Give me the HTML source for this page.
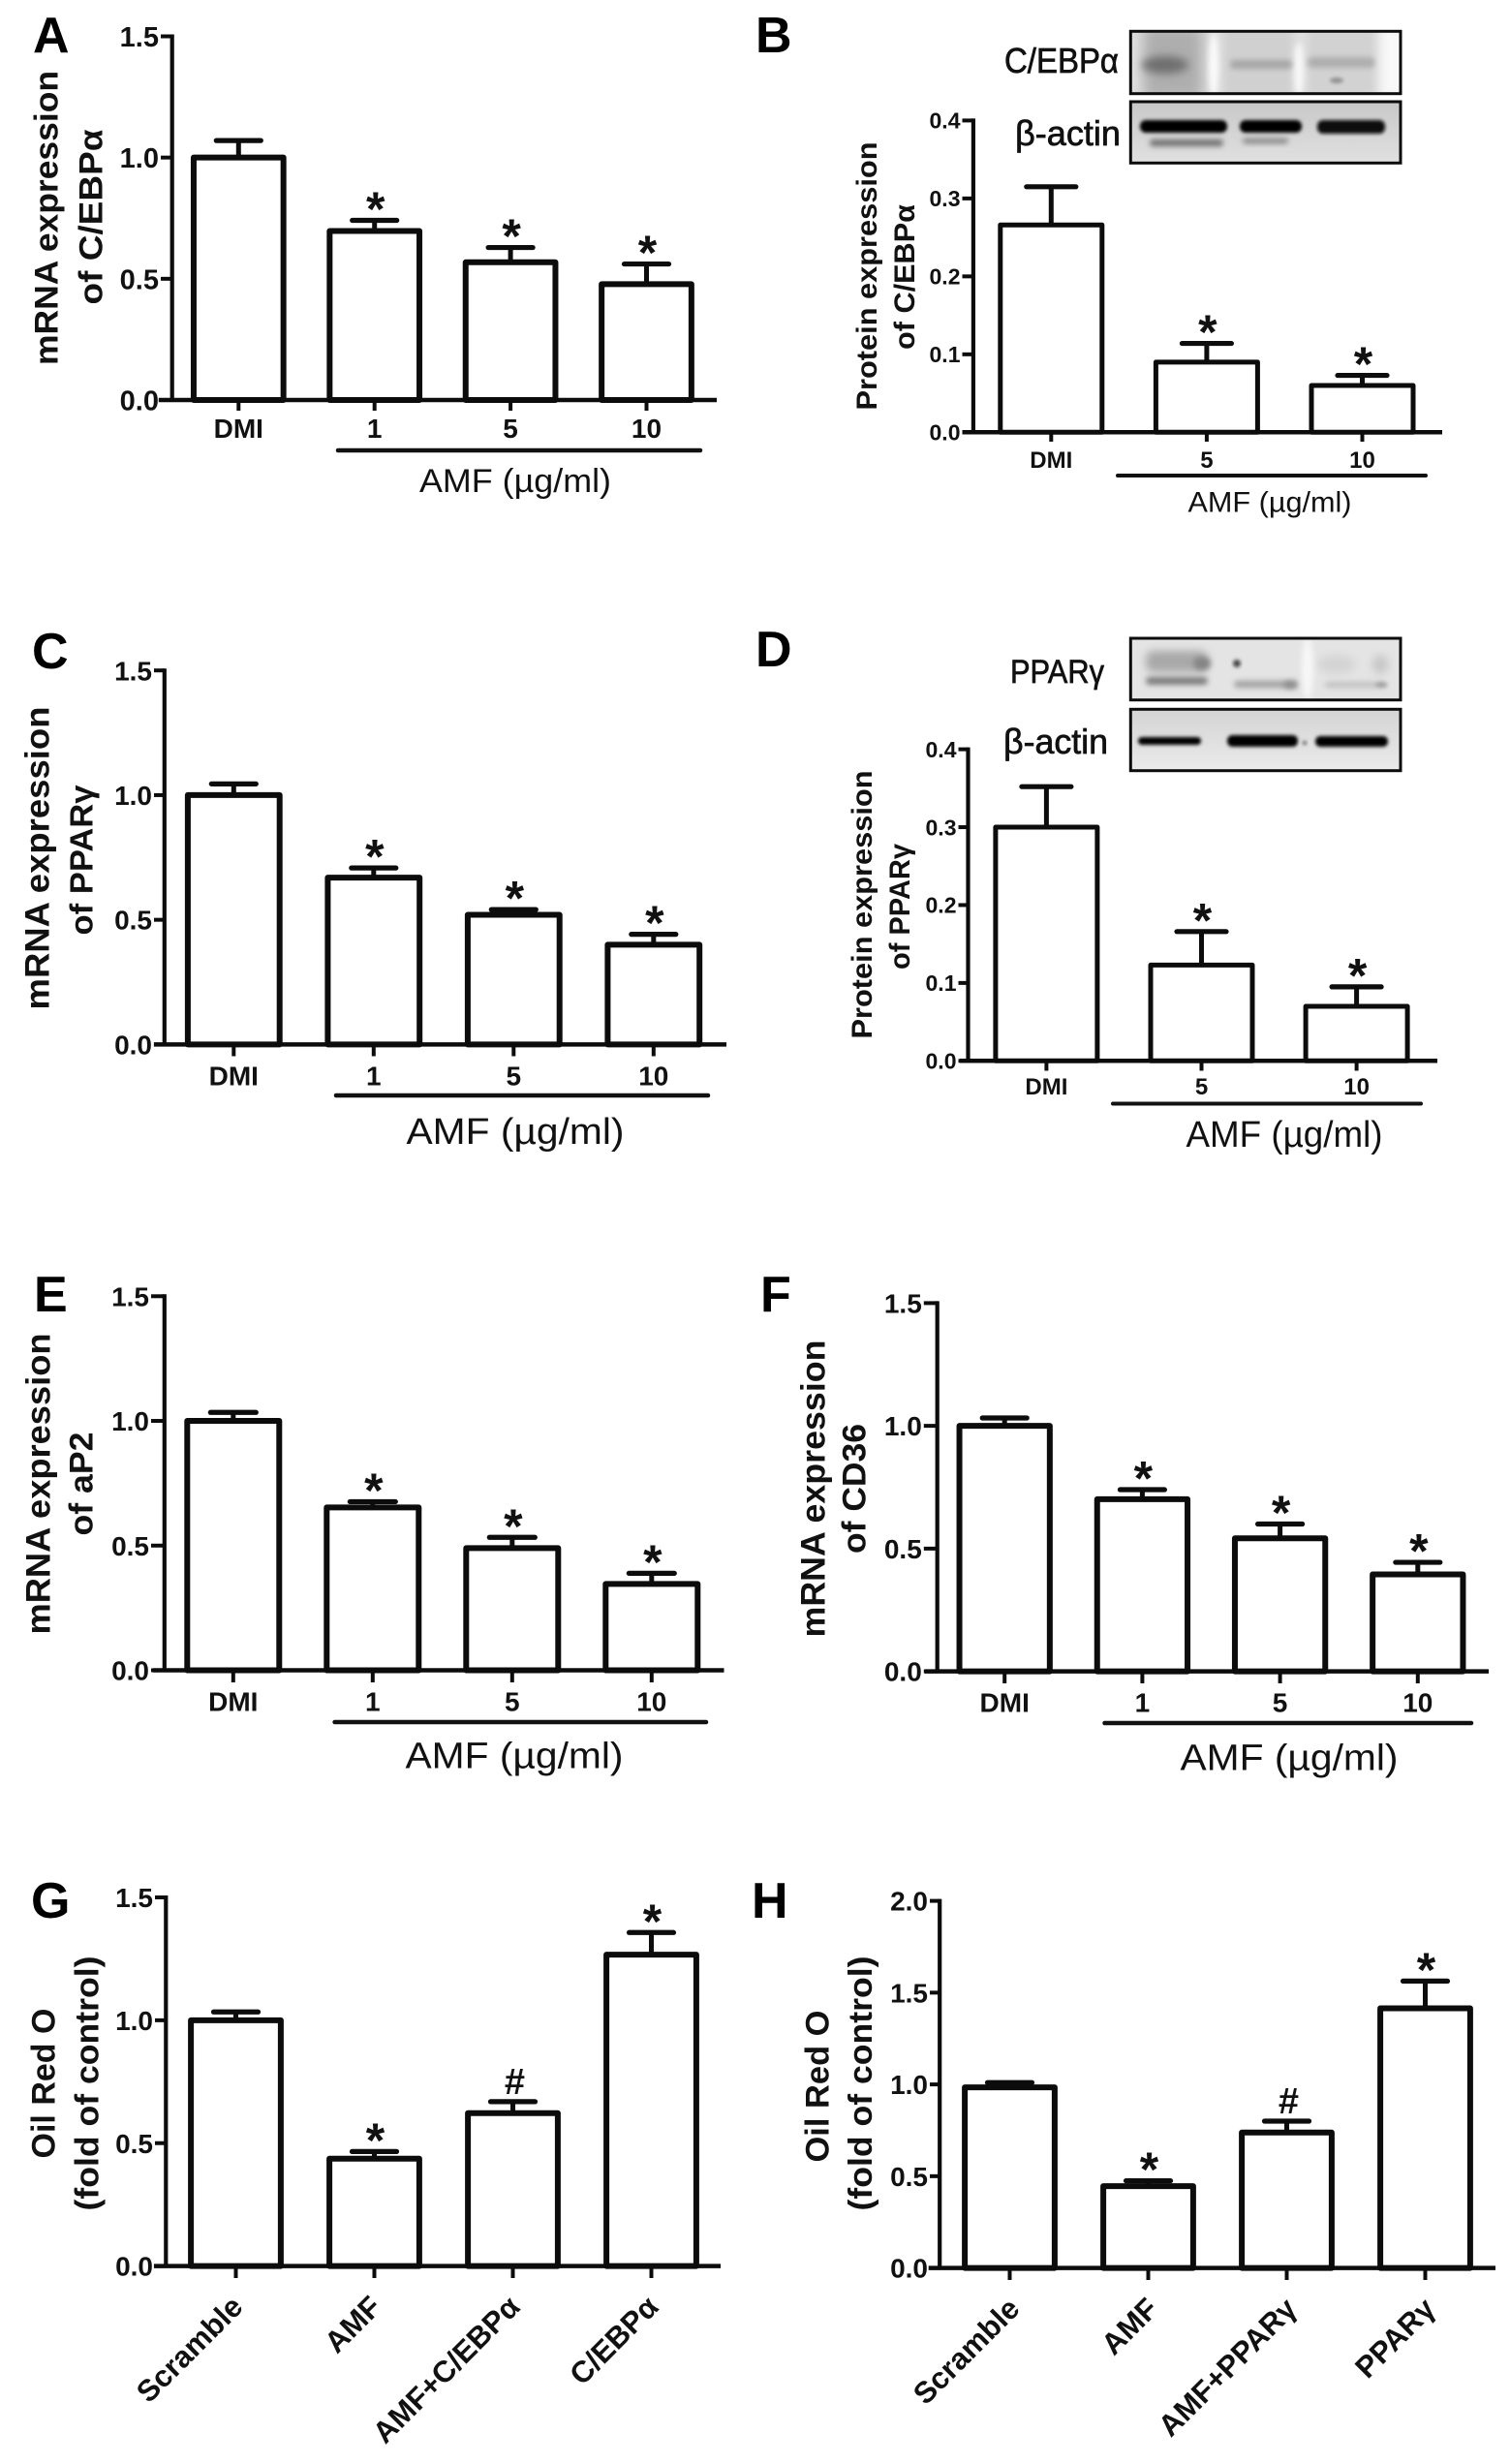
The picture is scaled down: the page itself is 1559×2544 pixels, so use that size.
<!DOCTYPE html>
<html lang="en">
<head>
<meta charset="utf-8">
<title>AMF adipogenesis bar charts</title>
<style>
  html, body { margin: 0; padding: 0; background: #fff; }
  svg { display: block; font-family: "Liberation Sans", Arial, sans-serif; }
</style>
</head>
<body>
<svg id="figure" xmlns="http://www.w3.org/2000/svg" width="1559" height="2544" viewBox="0 0 1559 2544">
  <defs>
    <filter id="b1" x="-30%" y="-100%" width="160%" height="300%"><feGaussianBlur stdDeviation="1.9"/></filter>
    <filter id="b2" x="-50%" y="-100%" width="200%" height="300%"><feGaussianBlur stdDeviation="2.8"/></filter>
    <filter id="b4" x="-50%" y="-100%" width="200%" height="300%"><feGaussianBlur stdDeviation="4.5"/></filter>
    <filter id="b8" x="-50%" y="-50%" width="200%" height="200%"><feGaussianBlur stdDeviation="7"/></filter>
    <linearGradient id="bgD2" x1="0" y1="0" x2="0" y2="1"><stop offset="0" stop-color="#d2d2d2"/><stop offset="1" stop-color="#ececec"/></linearGradient>
    <linearGradient id="bgB2" x1="0" y1="0" x2="0" y2="1"><stop offset="0" stop-color="#c6c6c6"/><stop offset="1" stop-color="#e2e2e2"/></linearGradient>
    <clipPath id="cb1"><rect x="1167.3" y="32.3" width="278.7" height="64.4"/></clipPath>
    <clipPath id="cb2"><rect x="1167.3" y="105" width="278.7" height="63.3"/></clipPath>
    <clipPath id="cd1"><rect x="1167.3" y="659" width="278.7" height="63.7"/></clipPath>
    <clipPath id="cd2"><rect x="1167.3" y="732.3" width="278.7" height="63.4"/></clipPath>
  </defs>
  <rect x="0" y="0" width="1559" height="2544" fill="#fff"/>

  <!-- Panel B blots -->
  <g clip-path="url(#cb1)">
    <rect x="1160" y="28" width="295" height="72" fill="#e0e0e0"/>
    <rect x="1180" y="26" width="62" height="76" fill="#aeaeae" filter="url(#b8)"/>
    <rect x="1263" y="26" width="72" height="76" fill="#d0d0d0" filter="url(#b4)"/>
    <rect x="1350" y="30" width="70" height="70" fill="#d2d2d2" filter="url(#b4)"/>
    <ellipse cx="1203" cy="67" rx="24" ry="9" fill="#6e6e6e" filter="url(#b4)"/>
    <ellipse cx="1253" cy="68" rx="5" ry="34" fill="#fbfbfb" filter="url(#b2)"/>
    <ellipse cx="1341" cy="72" rx="5" ry="28" fill="#f8f8f8" filter="url(#b2)"/>
    <rect x="1270" y="62" width="64" height="9" rx="4" fill="#a6a6a6" filter="url(#b2)"/>
    <rect x="1350" y="59" width="70" height="11" rx="5" fill="#aeaeae" filter="url(#b2)"/>
    <ellipse cx="1380" cy="83" rx="7" ry="3" fill="#929292" filter="url(#b1)"/>
    <rect x="1425" y="28" width="30" height="72" fill="#f8f8f8" filter="url(#b4)"/>
  </g>
  <rect x="1167.3" y="32.3" width="278.7" height="64.4" fill="none" stroke="#0c0c0c" stroke-width="3"/>
  <g clip-path="url(#cb2)">
    <rect x="1160" y="100" width="295" height="72" fill="url(#bgB2)"/>
    <rect x="1177" y="124" width="90" height="13" rx="6" fill="#060606" filter="url(#b1)"/>
    <rect x="1280" y="124" width="64" height="13" rx="6" fill="#060606" filter="url(#b1)"/>
    <rect x="1360" y="124" width="70" height="14" rx="6" fill="#080808" filter="url(#b1)"/>
    <rect x="1187" y="144" width="76" height="7" rx="3.5" fill="#6e6e6e" filter="url(#b2)"/>
    <rect x="1283" y="143" width="47" height="5" rx="2.5" fill="#7e7e7e" filter="url(#b2)"/>
  </g>
  <rect x="1167.3" y="105" width="278.7" height="63.3" fill="none" stroke="#0c0c0c" stroke-width="3"/>
  <text x="1037" y="75" font-size="36" textLength="118" lengthAdjust="spacingAndGlyphs" fill="#111" stroke="#111" stroke-width="0.7">C/EBPα</text>
  <text x="1048" y="150" font-size="36" textLength="109" lengthAdjust="spacingAndGlyphs" fill="#111" stroke="#111" stroke-width="0.7">β-actin</text>

  <!-- Panel D blots -->
  <g clip-path="url(#cd1)">
    <rect x="1160" y="655" width="295" height="72" fill="#e4e4e4"/>
    <rect x="1183" y="672" width="64" height="22" rx="8" fill="#a8a8a8" filter="url(#b4)"/>
    <ellipse cx="1241" cy="685" rx="9" ry="7" fill="#858585" filter="url(#b2)"/>
    <rect x="1183" y="699" width="64" height="8" rx="4" fill="#7a7a7a" filter="url(#b2)"/>
    <ellipse cx="1277" cy="685" rx="4" ry="4" fill="#4a4a4a" filter="url(#b1)"/>
    <rect x="1274" y="703" width="66" height="7" rx="3.5" fill="#a0a0a0" filter="url(#b2)"/>
    <ellipse cx="1332" cy="707" rx="7" ry="4" fill="#8e8e8e" filter="url(#b2)"/>
    <rect x="1368" y="704" width="64" height="6" rx="3" fill="#c0c0c0" filter="url(#b2)"/>
    <ellipse cx="1426" cy="707" rx="6" ry="3" fill="#a8a8a8" filter="url(#b1)"/>
    <ellipse cx="1425" cy="686" rx="8" ry="10" fill="#c6c6c6" filter="url(#b4)"/>
    <ellipse cx="1380" cy="686" rx="20" ry="10" fill="#d4d4d4" filter="url(#b4)"/>
    <ellipse cx="1350" cy="690" rx="6" ry="32" fill="#f7f7f7" filter="url(#b2)"/>
  </g>
  <rect x="1167.3" y="659" width="278.7" height="63.7" fill="none" stroke="#0c0c0c" stroke-width="3"/>
  <g clip-path="url(#cd2)">
    <rect x="1160" y="728" width="295" height="72" fill="url(#bgD2)"/>
    <rect x="1175" y="761" width="65" height="8" rx="4" fill="#060606" filter="url(#b1)"/>
    <rect x="1267" y="759" width="73" height="12" rx="5.5" fill="#040404" filter="url(#b1)"/>
    <rect x="1358" y="760" width="75" height="11" rx="5" fill="#060606" filter="url(#b1)"/>
    <ellipse cx="1347" cy="767" rx="2.5" ry="2" fill="#666" filter="url(#b1)"/>
  </g>
  <rect x="1167.3" y="732.3" width="278.7" height="63.4" fill="none" stroke="#0c0c0c" stroke-width="3"/>
  <text x="1043" y="705" font-size="34" textLength="97" lengthAdjust="spacingAndGlyphs" fill="#111" stroke="#111" stroke-width="0.7">PPARγ</text>
  <text x="1036" y="778" font-size="36" textLength="108" lengthAdjust="spacingAndGlyphs" fill="#111" stroke="#111" stroke-width="0.7">β-actin</text>

  <!-- Panel letters -->
  <text x="34" y="54" font-size="52" font-weight="bold" fill="#000">A</text>
  <text x="780" y="54" font-size="52" font-weight="bold" fill="#000">B</text>
  <text x="33" y="690" font-size="52" font-weight="bold" fill="#000">C</text>
  <text x="780" y="688" font-size="52" font-weight="bold" fill="#000">D</text>
  <text x="35" y="1354" font-size="52" font-weight="bold" fill="#000">E</text>
  <text x="785" y="1354" font-size="52" font-weight="bold" fill="#000">F</text>
  <text x="32" y="1980" font-size="52" font-weight="bold" fill="#000">G</text>
  <text x="776" y="1980" font-size="52" font-weight="bold" fill="#000">H</text>

  <!-- Y-axis titles -->
  <text transform="translate(59.6 225) rotate(-90)" text-anchor="middle" font-size="34" font-weight="bold" textLength="304" lengthAdjust="spacingAndGlyphs" fill="#111">mRNA expression</text>
  <text transform="translate(105.3 224) rotate(-90)" text-anchor="middle" font-size="34" font-weight="bold" textLength="181" lengthAdjust="spacingAndGlyphs" fill="#111">of C/EBPα</text>
  <text transform="translate(905 285) rotate(-90)" text-anchor="middle" font-size="30" font-weight="bold" textLength="277" lengthAdjust="spacingAndGlyphs" fill="#111">Protein expression</text>
  <text transform="translate(943.8 286) rotate(-90)" text-anchor="middle" font-size="30" font-weight="bold" textLength="150" lengthAdjust="spacingAndGlyphs" fill="#111">of C/EBPα</text>
  <text transform="translate(50.6 886) rotate(-90)" text-anchor="middle" font-size="35" font-weight="bold" textLength="313" lengthAdjust="spacingAndGlyphs" fill="#111">mRNA expression</text>
  <text transform="translate(95.3 888) rotate(-90)" text-anchor="middle" font-size="33" font-weight="bold" textLength="155" lengthAdjust="spacingAndGlyphs" fill="#111">of PPARγ</text>
  <text transform="translate(900 934) rotate(-90)" text-anchor="middle" font-size="30" font-weight="bold" textLength="277" lengthAdjust="spacingAndGlyphs" fill="#111">Protein expression</text>
  <text transform="translate(938.9 936) rotate(-90)" text-anchor="middle" font-size="30" font-weight="bold" textLength="130" lengthAdjust="spacingAndGlyphs" fill="#111">of PPARγ</text>
  <text transform="translate(51.6 1532) rotate(-90)" text-anchor="middle" font-size="35" font-weight="bold" textLength="311" lengthAdjust="spacingAndGlyphs" fill="#111">mRNA expression</text>
  <text transform="translate(95.3 1532) rotate(-90)" text-anchor="middle" font-size="34" font-weight="bold" textLength="107" lengthAdjust="spacingAndGlyphs" fill="#111">of aP2</text>
  <text transform="translate(851.5 1537) rotate(-90)" text-anchor="middle" font-size="35" font-weight="bold" textLength="307" lengthAdjust="spacingAndGlyphs" fill="#111">mRNA expression</text>
  <text transform="translate(893.7 1537) rotate(-90)" text-anchor="middle" font-size="34" font-weight="bold" textLength="134" lengthAdjust="spacingAndGlyphs" fill="#111">of CD36</text>
  <text transform="translate(56.6 2151) rotate(-90)" text-anchor="middle" font-size="34" font-weight="bold" textLength="155" lengthAdjust="spacingAndGlyphs" fill="#111">Oil Red O</text>
  <text transform="translate(101.3 2151) rotate(-90)" text-anchor="middle" font-size="34" font-weight="bold" textLength="263" lengthAdjust="spacingAndGlyphs" fill="#111">(fold of control)</text>
  <text transform="translate(855.5 2154) rotate(-90)" text-anchor="middle" font-size="34" font-weight="bold" textLength="157" lengthAdjust="spacingAndGlyphs" fill="#111">Oil Red O</text>
  <text transform="translate(900 2151) rotate(-90)" text-anchor="middle" font-size="34" font-weight="bold" textLength="263" lengthAdjust="spacingAndGlyphs" fill="#111">(fold of control)</text>

  <!-- Dose group labels -->
  <line x1="349" y1="465" x2="723" y2="465" stroke="#111" stroke-width="4.5" stroke-linecap="round"/>
  <text x="532" y="508" text-anchor="middle" font-size="34" textLength="198" lengthAdjust="spacingAndGlyphs" fill="#111">AMF (µg/ml)</text>
  <line x1="1154" y1="491" x2="1472" y2="491" stroke="#111" stroke-width="4" stroke-linecap="round"/>
  <text x="1311" y="528.5" text-anchor="middle" font-size="30" textLength="169" lengthAdjust="spacingAndGlyphs" fill="#111">AMF (µg/ml)</text>
  <line x1="347" y1="1131" x2="731" y2="1131" stroke="#111" stroke-width="4.5" stroke-linecap="round"/>
  <text x="532" y="1181" text-anchor="middle" font-size="38" textLength="225" lengthAdjust="spacingAndGlyphs" fill="#111">AMF (µg/ml)</text>
  <line x1="1149" y1="1139.5" x2="1467" y2="1139.5" stroke="#111" stroke-width="4" stroke-linecap="round"/>
  <text x="1326" y="1184" text-anchor="middle" font-size="38" textLength="203" lengthAdjust="spacingAndGlyphs" fill="#111">AMF (µg/ml)</text>
  <line x1="345.6" y1="1778" x2="729" y2="1778" stroke="#111" stroke-width="4.5" stroke-linecap="round"/>
  <text x="531" y="1825.7" text-anchor="middle" font-size="38" textLength="225" lengthAdjust="spacingAndGlyphs" fill="#111">AMF (µg/ml)</text>
  <line x1="1140.5" y1="1779" x2="1519" y2="1779" stroke="#111" stroke-width="4.5" stroke-linecap="round"/>
  <text x="1331" y="1827.5" text-anchor="middle" font-size="38" textLength="225" lengthAdjust="spacingAndGlyphs" fill="#111">AMF (µg/ml)</text>
</svg>

<script>
// Chart data
const doseCategories = ['DMI', '1', '5', '10'];
const proteinCategories = ['DMI', '5', '10'];
const oilCategoriesG = ['Scramble', 'AMF', 'AMF+C/EBPα', 'C/EBPα'];
const oilCategoriesH = ['Scramble', 'AMF', 'AMF+PPARγ', 'PPARγ'];

const mrnaTicks = ['0.0', '0.5', '1.0', '1.5'];
const proteinTicks = ['0.0', '0.1', '0.2', '0.3', '0.4'];
const oilTicksH = ['0.0', '0.5', '1.0', '1.5', '2.0'];

const panelAMeans = [1.0, 0.697, 0.568, 0.478];
const panelAErrors = [0.07, 0.044, 0.061, 0.083];
const panelAMarks = ['', '*', '*', '*'];

const panelBMeans = [0.266, 0.09, 0.06];
const panelBErrors = [0.049, 0.024, 0.013];
const panelBMarks = ['', '*', '*'];

const panelCMeans = [1.0, 0.669, 0.52, 0.40];
const panelCErrors = [0.045, 0.039, 0.021, 0.042];
const panelCMarks = ['', '*', '*', '*'];

const panelDMeans = [0.30, 0.123, 0.07];
const panelDErrors = [0.052, 0.043, 0.025];
const panelDMarks = ['', '*', '*'];

const panelEMeans = [1.0, 0.653, 0.49, 0.346];
const panelEErrors = [0.034, 0.023, 0.043, 0.043];
const panelEMarks = ['', '*', '*', '*'];

const panelFMeans = [1.0, 0.701, 0.542, 0.395];
const panelFErrors = [0.032, 0.039, 0.058, 0.049];
const panelFMarks = ['', '*', '*', '*'];

const panelGMeans = [1.0, 0.437, 0.622, 1.267];
const panelGErrors = [0.034, 0.029, 0.047, 0.09];
const panelGMarks = ['', '*', '#', '*'];

const panelHMeans = [0.984, 0.446, 0.738, 1.415];
const panelHErrors = [0.026, 0.029, 0.062, 0.148];
const panelHMarks = ['', '*', '#', '*'];

const svgNS = 'http://www.w3.org/2000/svg';
const figure = document.getElementById('figure');

function add(parent, tag, attrs, text) {
  const el = document.createElementNS(svgNS, tag);
  for (const k in attrs) el.setAttribute(k, attrs[k]);
  if (text !== undefined) el.textContent = text;
  parent.appendChild(el);
  return el;
}

function drawPanel(categories, means, errors, ticks, marks, o) {
  const tickMax = parseFloat(ticks[ticks.length - 1]);
  const y = v => o.y0 - (v / tickMax) * (o.y0 - o.yTop);
  const x = i => o.first + i * o.step;
  const g = add(figure, 'g', {});
  
  

  means.forEach((m, i) => {
    const top = y(m + errors[i]);
    const stem = add(g, 'line', { x1: x(i), x2: x(i), y1: y(m), y2: top, stroke: '#0c0c0c', 'stroke-width': 5 });
    
    
    const cap = add(g, 'line', { x1: x(i) - o.capW / 2, x2: x(i) + o.capW / 2, y1: top, y2: top, stroke: '#0c0c0c', 'stroke-width': 5.2, 'stroke-linecap': 'round' });
    
    
    const bar = add(g, 'rect', { x: x(i) - o.barW / 2, y: y(m), width: o.barW, height: y(0) - y(m), fill: '#fff', stroke: '#0c0c0c', 'stroke-width': o.sw, 'stroke-linejoin': 'round' });
    
    

    if (marks[i] === '*') {
      const cy = top - 17;
      const star = add(g, 'text', { x: x(i) + 1, y: cy + 0.45 * 50, 'text-anchor': 'middle', 'font-size': 50, 'font-weight': 'bold', fill: '#111' }, marks[i]);
      
      
    } else if (marks[i] === '#') {
      const hash = add(g, 'text', { x: x(i) + 2, y: top - 8, 'text-anchor': 'middle', 'font-size': 38, 'font-weight': 'bold', fill: '#111' }, marks[i]);
      
      
    }

    const xTick = add(g, 'line', { x1: x(i), x2: x(i), y1: o.y0, y2: o.xTickEnd, stroke: '#0c0c0c', 'stroke-width': 4 });
    
    

    if (o.rotated) {
      const bx = x(i) + o.rotDx;
      const by = o.y0 + 44;
      const label = add(g, 'text', { x: bx, y: by, 'text-anchor': 'end', 'font-size': o.catFs, 'font-weight': 'bold', fill: '#111', transform: 'rotate(-45 ' + bx + ' ' + by + ')' }, categories[i]);
      
      
    } else {
      const label = add(g, 'text', { x: x(i), y: o.catBase, 'text-anchor': 'middle', 'font-size': o.catFs, 'font-weight': 'bold', fill: '#111' }, categories[i]);
      
      
    }
  });

  ticks.forEach(t => {
    const v = parseFloat(t);
    const yTick = add(g, 'line', { x1: o.labelRight + 2, x2: o.ax, y1: y(v), y2: y(v), stroke: '#0c0c0c', 'stroke-width': 4 });
    
    
    const tl = add(g, 'text', { x: o.labelRight, y: y(v) + 0.36 * o.tickFs, 'text-anchor': 'end', 'font-size': o.tickFs, 'font-weight': 'bold', fill: '#111' }, t);
    
    
  });

  const yAxis = add(g, 'line', { x1: o.ax, x2: o.ax, y1: o.yTop - 2, y2: o.y0, stroke: '#0c0c0c', 'stroke-width': 4.2 });
  
  
  const xAxis = add(g, 'line', { x1: o.xl, x2: o.xr, y1: o.y0, y2: o.y0, stroke: '#0c0c0c', 'stroke-width': 4.5 });
  
  
}

drawPanel(doseCategories, panelAMeans, panelAErrors, mrnaTicks, panelAMarks,
  { id: 'a', ax: 177.7, y0: 413, yTop: 37.5, xl: 163.8, xr: 740, first: 246.3, step: 140.4, barW: 92.7, capW: 46, sw: 6, tickFs: 29, catFs: 28, catBase: 452, xTickEnd: 424, labelRight: 164 });
drawPanel(proteinCategories, panelBMeans, panelBErrors, proteinTicks, panelBMarks,
  { id: 'b', ax: 1004.9, y0: 446.3, yTop: 124.4, xl: 993.5, xr: 1489, first: 1085.3, step: 160.6, barW: 105, capW: 51, sw: 5, tickFs: 23, catFs: 24, catBase: 483, xTickEnd: 456, labelRight: 991.5 });
drawPanel(doseCategories, panelCMeans, panelCErrors, mrnaTicks, panelCMarks,
  { id: 'c', ax: 169.8, y0: 1078.4, yTop: 692.2, xl: 158.9, xr: 750, first: 241.3, step: 144.5, barW: 94.8, capW: 46, sw: 6, tickFs: 28, catFs: 28, catBase: 1120.6, xTickEnd: 1090.5, labelRight: 157 });
drawPanel(proteinCategories, panelDMeans, panelDErrors, proteinTicks, panelDMarks,
  { id: 'd', ax: 999.5, y0: 1095.3, yTop: 773.6, xl: 991, xr: 1484, first: 1080.4, step: 160.1, barW: 105, capW: 51, sw: 5, tickFs: 23, catFs: 24, catBase: 1130, xTickEnd: 1105.5, labelRight: 987.5 });
drawPanel(doseCategories, panelEMeans, panelEErrors, mrnaTicks, panelEMarks,
  { id: 'e', ax: 169.8, y0: 1724.5, yTop: 1338.3, xl: 157.9, xr: 747.5, first: 240.8, step: 144, barW: 95, capW: 47, sw: 6, tickFs: 28, catFs: 28, catBase: 1766.7, xTickEnd: 1737, labelRight: 154 });
drawPanel(doseCategories, panelFMeans, panelFErrors, mrnaTicks, panelFMarks,
  { id: 'f', ax: 967.7, y0: 1725.6, yTop: 1345.4, xl: 954.8, xr: 1537, first: 1037.2, step: 142.2, barW: 93.3, capW: 46, sw: 6, tickFs: 28, catFs: 28, catBase: 1767.7, xTickEnd: 1738, labelRight: 951.8 });
drawPanel(oilCategoriesG, panelGMeans, panelGErrors, mrnaTicks, panelGMarks,
  { id: 'g', ax: 171.3, y0: 2339.6, yTop: 1959, xl: 158.9, xr: 744, first: 243.5, step: 143, barW: 92.8, capW: 46, sw: 6, tickFs: 28, catFs: 31, rotated: true, rotDx: 9, xTickEnd: 2352, labelRight: 158 });
drawPanel(oilCategoriesH, panelHMeans, panelHErrors, oilTicksH, panelHMarks,
  { id: 'h', ax: 970.2, y0: 2341.6, yTop: 1962.6, xl: 958.7, xr: 1544, first: 1042.5, step: 143, barW: 92.8, capW: 46, sw: 6, tickFs: 28, catFs: 31, rotated: true, rotDx: 12, xTickEnd: 2354, labelRight: 958 });
</script>
</body>
</html>
